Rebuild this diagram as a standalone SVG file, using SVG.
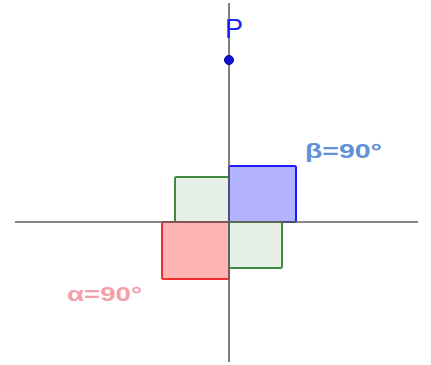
<svg xmlns="http://www.w3.org/2000/svg" width="431" height="365" viewBox="0 0 431 365">
<style>
.axis{stroke:#5f5f5f;stroke-width:1.6;fill:none}
.g{fill:#e5efe5;stroke:#3f8a3f;stroke-width:2}
.b{fill:#b3b3ff;stroke:#1a1aff;stroke-width:2}
.r{fill:#ffb3b3;stroke:#f03030;stroke-width:2}
.lbl{font-family:"Liberation Sans",Arial,sans-serif;font-weight:bold;font-size:20px}
</style>
<rect width="431" height="365" fill="#ffffff"/>
<g id="shapes">
<g id="green1"><rect class="g" x="175" y="177" width="54" height="45" rx="1.5"/></g>
<g id="blue"><rect class="b" x="229" y="166" width="67" height="56" rx="1.5"/></g>
<g id="red"><rect class="r" x="162" y="222" width="67" height="57" rx="1.5"/></g>
<g id="green2"><rect class="g" x="229" y="222" width="53" height="46" rx="1.5"/></g>
</g>
<g id="axes">
<line class="axis" x1="229" y1="3" x2="229" y2="362"/>
<line class="axis" x1="15" y1="222" x2="418" y2="222"/>
</g>
<g id="P">
<circle cx="229" cy="60" r="4.5" fill="#1010d0" stroke="#0000a0" stroke-width="1"/>
<text x="225" y="38" font-family="'Liberation Sans',Arial,sans-serif" font-size="28" fill="#2020f0" textLength="18" lengthAdjust="spacingAndGlyphs">P</text>
</g>
<g id="alpha"><text class="lbl" x="67" y="301" fill="#f2a0a8" textLength="75" lengthAdjust="spacingAndGlyphs">α=90°</text></g>
<g id="beta"><text class="lbl" x="305" y="158" fill="#5f90d8" textLength="77" lengthAdjust="spacingAndGlyphs">β=90°</text></g>
</svg>
